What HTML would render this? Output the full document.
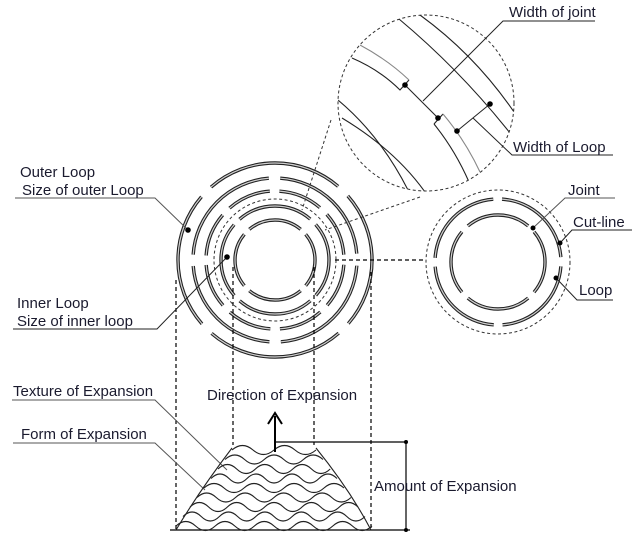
<!DOCTYPE html>
<html><head><meta charset="utf-8"><style>
body{margin:0;background:#fff}
svg{display:block}
text{font-family:"Liberation Sans",Arial,sans-serif;font-size:15px;fill:#1a1a2e}
</style></head><body>
<svg width="640" height="537" viewBox="0 0 640 537" xmlns="http://www.w3.org/2000/svg">
<defs>
<clipPath id="zc"><circle cx="426" cy="103" r="88"/></clipPath>
</defs>
<g fill="none">
<g stroke="#222" stroke-width="3.4">
<circle cx="275" cy="260" r="97" pathLength="360" stroke-dasharray="82 8" stroke-dashoffset="41"/>
<circle cx="275" cy="260" r="82" pathLength="360" stroke-dasharray="82 8" stroke-dashoffset="-4"/>
<circle cx="275" cy="260" r="69" pathLength="360" stroke-dasharray="37 8" stroke-dashoffset="-4"/>
<circle cx="275" cy="260" r="54" pathLength="360" stroke-dasharray="82 8" stroke-dashoffset="41"/>
<circle cx="275" cy="260" r="40" pathLength="360" stroke-dasharray="80 10" stroke-dashoffset="40"/>
<circle cx="498" cy="262" r="63" pathLength="360" stroke-dasharray="82 8" stroke-dashoffset="-4"/>
<circle cx="498" cy="262" r="47" pathLength="360" stroke-dasharray="80 10" stroke-dashoffset="40"/>
</g>
<g stroke="#d0d0d0" stroke-width="1.2">
<circle cx="275" cy="260" r="97" pathLength="360" stroke-dasharray="82 8" stroke-dashoffset="41"/>
<circle cx="275" cy="260" r="82" pathLength="360" stroke-dasharray="82 8" stroke-dashoffset="-4"/>
<circle cx="275" cy="260" r="69" pathLength="360" stroke-dasharray="37 8" stroke-dashoffset="-4"/>
<circle cx="275" cy="260" r="54" pathLength="360" stroke-dasharray="82 8" stroke-dashoffset="41"/>
<circle cx="275" cy="260" r="40" pathLength="360" stroke-dasharray="80 10" stroke-dashoffset="40"/>
<circle cx="498" cy="262" r="63" pathLength="360" stroke-dasharray="82 8" stroke-dashoffset="-4"/>
<circle cx="498" cy="262" r="47" pathLength="360" stroke-dasharray="80 10" stroke-dashoffset="40"/>
</g>
<g stroke="#333" stroke-width="1" stroke-dasharray="3 2.5">
<circle cx="275" cy="260" r="61"/>
<circle cx="498" cy="262" r="72"/>
<circle cx="426" cy="103" r="88"/>
<line x1="331" y1="120" x2="302" y2="210"/>
<line x1="420" y1="197" x2="325" y2="230"/>
</g>
<g stroke="#000" stroke-width="1.2" stroke-dasharray="4 3">
<line x1="335" y1="260" x2="426" y2="260"/>
<line x1="176" y1="280" x2="176" y2="530"/>
<line x1="233" y1="267" x2="233" y2="445"/>
<line x1="314" y1="267" x2="314" y2="445"/>
<line x1="371" y1="272" x2="371" y2="530"/>
</g>
<g clip-path="url(#zc)" stroke="#222" stroke-width="1.1">
<path d="M420 15 Q475 55 514 112"/>
<path d="M399 19 Q460 70 510 133"/>
<path d="M352 58 Q380 70 400 90 L409 80" />
<path d="M360 45 Q388 60 409 80" stroke="#888"/>
<path d="M405 85 L438 118"/>
<path d="M434 124 L443 114"/>
<path d="M443 114 Q465 140 480 172" stroke="#888"/>
<path d="M434 124 Q455 150 469 182"/>
<path d="M338 100 Q380 135 408 190"/>
<path d="M342 118 Q395 150 425 192"/>
</g>
<g stroke="#222" stroke-width="1">
<polyline points="595,21 503,21 423,101"/>
<line x1="457" y1="131" x2="490" y2="104"/>
<polyline points="613,155 512,155 473,118"/>
<polyline points="15,198 155,198 188,230" stroke="#555"/>
<polyline points="13,329 157,329 227,257" stroke="#222"/>
<polyline points="615,198 565,198 533,228" stroke="#555"/>
<polyline points="632,230 572,230 560,243"/>
<polyline points="613,300 577,300 556,278"/>
<polyline points="12,400 155,400 227,470" stroke="#555"/>
<polyline points="13,443 155,443 205,490" stroke="#555"/>
</g>
<g fill="#000">
<circle cx="405" cy="85" r="2.8"/><circle cx="438" cy="118" r="2.8"/>
<circle cx="490" cy="104" r="2.8"/><circle cx="457" cy="131" r="2.8"/>
<circle cx="188" cy="230" r="2.8"/><circle cx="227" cy="257" r="2.8"/>
<circle cx="533" cy="228" r="2.5"/><circle cx="560" cy="243" r="2.5"/><circle cx="556" cy="278" r="2.5"/>
<circle cx="406" cy="442" r="2"/><circle cx="406" cy="530" r="2"/>
</g>
<g stroke="#000" stroke-width="1.2">
<line x1="170" y1="530" x2="410" y2="530"/>
<line x1="275" y1="442" x2="406" y2="442"/>
<line x1="406" y1="442" x2="406" y2="530"/>
</g>
<g stroke="#222" stroke-width="1.1">
<path d="M232 450 q10.5 -9 21 0 t21 0 t21 0 t21 0"/>
<path d="M225 459.5 q9.8 -9 19.6 0 t19.6 0 t19.6 0 t19.6 0 t19.6 0"/>
<path d="M218 469 q9.35 -9 18.7 0 t18.7 0 t18.7 0 t18.7 0 t18.7 0 t18.7 0"/>
<path d="M211 478.5 q9 -9 18 0 t18 0 t18 0 t18 0 t18 0 t18 0 t18 0"/>
<path d="M204 488 q10 -9 20 0 t20 0 t20 0 t20 0 t20 0 t20 0 t20 0"/>
<path d="M197 497.5 q9.625 -9 19.25 0 t19.25 0 t19.25 0 t19.25 0 t19.25 0 t19.25 0 t19.25 0 t19.25 0"/>
<path d="M190 507 q9.33 -9 18.67 0 t18.67 0 t18.67 0 t18.67 0 t18.67 0 t18.67 0 t18.67 0 t18.67 0 t18.67 0"/>
<path d="M183 516.5 q9.1 -9 18.2 0 t18.2 0 t18.2 0 t18.2 0 t18.2 0 t18.2 0 t18.2 0 t18.2 0 t18.2 0 t18.2 0"/>
<path d="M176 526 q9.8 -9 19.6 0 t19.6 0 t19.6 0 t19.6 0 t19.6 0 t19.6 0 t19.6 0 t19.6 0 t19.6 0 t19.6 0"/>
<path d="M232 448 Q200 490 176 530"/>
<path d="M316 448 Q350 490 371 530"/>
</g>
<line x1="275" y1="452" x2="275" y2="416" stroke="#000" stroke-width="2"/>
<polyline points="268,424 275,413 282,424" stroke="#000" stroke-width="2"/>
</g>
<text x="509" y="17">Width of joint</text>
<text x="513" y="152">Width of Loop</text>
<text x="20" y="177">Outer Loop</text>
<text x="22" y="195">Size of outer Loop</text>
<text x="17" y="308">Inner Loop</text>
<text x="17" y="326">Size of inner loop</text>
<text x="568" y="195">Joint</text>
<text x="573" y="227">Cut-line</text>
<text x="579" y="295">Loop</text>
<text x="13" y="396">Texture of Expansion</text>
<text x="21" y="439">Form of Expansion</text>
<text x="207" y="400">Direction of Expansion</text>
<text x="374" y="491">Amount of Expansion</text>
</svg>
</body></html>
